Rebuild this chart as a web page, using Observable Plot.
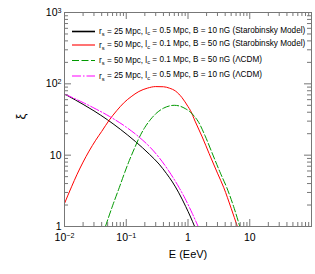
<!DOCTYPE html>
<html><head><meta charset="utf-8">
<script src="https://cdn.jsdelivr.net/npm/d3@7"></script>
<script src="https://cdn.jsdelivr.net/npm/@observablehq/plot@0.6"></script>
<style>body{margin:0;background:#fff}#chart svg{display:block}</style>
</head><body><div id="chart"></div>
<script>
// ---- data ----
const blackE  = [0.01,0.015,0.02,0.03,0.05,0.08,0.14,0.24,0.34,0.45,0.56,0.7,0.92,1.1,1.28];
const blackXi = [72,59.4,51.6,41.8,31.2,23.1,15.6,10.2,7.5,5.5,4.2,3.03,1.9,1.36,1.0];
const redE  = [0.01,0.013,0.016,0.02,0.025,0.032,0.04,0.053,0.07,0.093,0.12,0.16,0.22,0.3,0.4,0.5,0.63,0.8,1.0,1.1,1.3,1.7,2.2,3.0,3.8,5.0,6.3];
const redXi = [2.1,3.6,5.4,8.0,11.4,16.2,21.5,31,42,55,66,78,87,91.5,91,87,79,64,48,42,30,18,10.5,5.6,3.5,1.8,1.0];
const greenE  = [0.046,0.06,0.077,0.095,0.112,0.135,0.162,0.2,0.25,0.3,0.4,0.5,0.6,0.75,0.9,1.1,1.25,1.45,1.9,2.45,3.35,4.25,5.6,6.9];
const greenXi = [1.0,1.95,3.5,5.8,8.4,12.3,17.6,24.5,32,38,45.5,49,50,48.5,45,40,35.5,30,18.5,10.8,5.6,3.5,1.8,1.0];
const magE  = [0.01,0.02,0.03,0.053,0.1,0.162,0.25,0.34,0.5,0.716,0.9,1.17,1.46];
const magXi = [72,54.6,45.8,35.1,24.7,17.9,12.6,9.27,5.82,3.52,2.45,1.53,1.0];

const seriesRs = ["25","50","50","25"];
const seriesLc = ["0.5","0.1","0.1","0.5"];
const seriesB  = ["10","50","50","10"];
const seriesModel = ["(Starobinsky Model)","(Starobinsky Model)","(\u039BCDM)","(\u039BCDM)"];
const seriesColor = ["#000000","#ff0000","#009900","#ff00ff"];
const seriesDash = [null,null,"7,2.5","9,2,1.5,2"];

const xTickLabels = [0.01,0.1,1,10];
const yTickLabels = [1,10,100,1000];
const xLabel = "E (EeV)";
const yLabel = "\u03BE";

// ---- layout ----
const W = 315, H = 274, mL = 64, mR = 4, mT = 12, mB = 48;
const pw = W - mL - mR, ph = H - mT - mB;
const frameColor = "#777";

const seriesE = [blackE, redE, greenE, magE];
const seriesXi = [blackXi, redXi, greenXi, magXi];
const rows = [];
seriesE.forEach((es, k) => es.forEach((e, i) => rows.push({k, E: e, xi: seriesXi[k][i]})));

function logTicks(lo, hi) {
  const major = [], minor = [];
  for (let p = lo; p <= hi; p++) {
    major.push(10 ** p);
    if (p < hi) for (let m = 2; m <= 9; m++) minor.push(m * 10 ** p);
  }
  return {major, minor};
}
const xt = logTicks(-2, 2), yt = logTicks(0, 3);
const fmt = d => d === 1 ? "1" : d === 10 ? "10" : "10^" + Math.round(Math.log10(d)).toString().replace("-", "\u2212");

const lineMarks = [0,1,2,3].map(k => Plot.line(rows.filter(r => r.k === k), {
  x: "E", y: "xi", stroke: seriesColor[k], strokeWidth: 1, curve: "monotone-x",
  strokeDasharray: seriesDash[k] ?? undefined, clip: true
}));

const plot = Plot.plot({
  width: W, height: H,
  marginLeft: mL, marginRight: mR, marginTop: mT, marginBottom: mB,
  style: {fontFamily: "'Liberation Sans', Arial, sans-serif", fontSize: "10.5px", color: "#000", background: "#fff"},
  x: {type: "log", domain: [0.01, 100]},
  y: {type: "log", domain: [1, 1000]},
  marks: [
    ...lineMarks,
    Plot.tickX(xt.major, {x: d => d, insetTop: ph - 7, stroke: frameColor}),
    Plot.tickX(xt.major, {x: d => d, insetBottom: ph - 7, stroke: frameColor}),
    Plot.tickX(xt.minor, {x: d => d, insetTop: ph - 4, stroke: frameColor}),
    Plot.tickX(xt.minor, {x: d => d, insetBottom: ph - 4, stroke: frameColor}),
    Plot.tickY(yt.major, {y: d => d, insetRight: pw - 7, stroke: frameColor}),
    Plot.tickY(yt.major, {y: d => d, insetLeft: pw - 7, stroke: frameColor}),
    Plot.tickY(yt.minor, {y: d => d, insetRight: pw - 4, stroke: frameColor}),
    Plot.tickY(yt.minor, {y: d => d, insetLeft: pw - 4, stroke: frameColor}),
    Plot.frame({stroke: frameColor}),
    Plot.axisX(xTickLabels, {tickSize: 0, tickPadding: 7, tickFormat: fmt, label: null, fontSize: 10.5}),
    Plot.axisY(yTickLabels, {tickSize: 0, tickPadding: 3, tickFormat: fmt, label: null, fontSize: 10.5}),
    Plot.text([xLabel], {text: d => d, frameAnchor: "bottom", dy: 31, fontSize: 11}),
    Plot.text([yLabel], {text: d => d, frameAnchor: "left", dx: -44, rotate: -90, fontSize: 13})
  ]
});

// superscripts for the tick labels
plot.querySelectorAll("text").forEach(t => {
  const s = t.textContent;
  if (s.includes("^")) {
    const [b, e] = s.split("^");
    t.textContent = "";
    const ns = "http://www.w3.org/2000/svg";
    const t1 = document.createElementNS(ns, "tspan"); t1.textContent = b;
    const t2 = document.createElementNS(ns, "tspan"); t2.textContent = e;
    t2.setAttribute("dy", "-0.45em"); t2.setAttribute("font-size", "0.68em");
    t.appendChild(t1); t.appendChild(t2);
  }
});

// legend inside the frame
const svg = d3.select(plot);
const lg = svg.append("g")
  .attr("font-family", "'Liberation Sans', Arial, sans-serif")
  .attr("font-size", 8.2).attr("text-anchor", "start");
const rowY = [31.5, 45, 60.5, 76];
[0,1,2,3].forEach(k => {
  const y = rowY[k];
  lg.append("line").attr("x1", 72).attr("x2", 95).attr("y1", y).attr("y2", y)
    .attr("stroke", seriesColor[k]).attr("stroke-width", k === 0 ? 1.6 : 1.1)
    .attr("stroke-dasharray", seriesDash[k]);
  const t = lg.append("text").attr("x", 99).attr("y", y + 2.8).attr("fill", "#000");
  t.append("tspan").text("r");
  t.append("tspan").attr("font-size", "0.7em").attr("dy", "0.3em").text("s");
  t.append("tspan").attr("dy", "-0.3em").text(` = ${seriesRs[k]} Mpc, l`);
  t.append("tspan").attr("font-size", "0.7em").attr("dy", "0.3em").text("c");
  t.append("tspan").attr("dy", "-0.3em").text(` = ${seriesLc[k]} Mpc, B = ${seriesB[k]} nG ${seriesModel[k]}`);
});

document.getElementById("chart").appendChild(plot);
</script>
</body></html>
